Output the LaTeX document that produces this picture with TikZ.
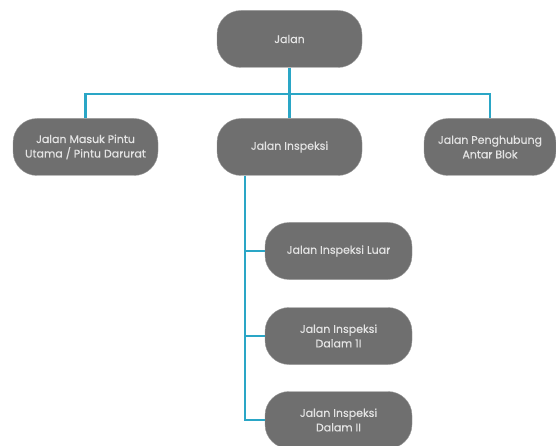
\documentclass[tikz,border=0pt]{standalone}
\usepackage{fontspec}
\setmainfont{Poppins}[UprightFeatures={FakeBold=0.35}]
\usepackage{xcolor}
\usetikzlibrary{positioning,calc}
\definecolor{JalanGray}{HTML}{6F6F6F}
\definecolor{JalanRim}{HTML}{9A9A9A}
\definecolor{JalanText}{HTML}{E4E4E4}
\definecolor{JalanTeal}{HTML}{2AA6C6}

\begin{document}
\begin{tikzpicture}[x=1pt,y=1pt,font=\fontsize{11}{14.5}\selectfont,
    road/.style={draw=JalanRim,fill=JalanGray,text=JalanText,rounded corners=24pt,
      minimum height=57pt,align=center,inner sep=2pt},
    link/.style={draw=JalanTeal,line width=2.4pt}]
  \useasboundingbox (0,0) rectangle (556,-446);
  % level 0
  \node[road,minimum width=145pt] (jalan) at (289.5,-39) {Jalan};
  % level 1
  \node[road,minimum width=145pt] (masuk) at (85.5,-147) {Jalan Masuk Pintu\\Utama / Pintu Darurat};
  \node[road,minimum width=145pt] (inspeksi) at (289.5,-147) {Jalan Inspeksi};
  \node[road,minimum width=132pt] (hubung) at (490,-147) {Jalan Penghubung\\Antar Blok};
  % level 2
  \node[road,minimum width=147pt] (luar) at (338.5,-251) {Jalan Inspeksi Luar};
  \node[road,minimum width=147pt] (dalama) at (338.5,-336) {Jalan Inspeksi\\Dalam 1I};
  \node[road,minimum width=147pt] (dalamb) at (338.5,-420) {Jalan Inspeksi\\Dalam II};
  % connectors
  \coordinate (bus) at (289.5,-94);
  \coordinate (trunk) at (245,-420);
  \draw[link] (jalan.south) -- (bus);
  \draw[link] (masuk.north) |- (bus) -| (hubung.north);
  \draw[link] (bus) -- (inspeksi.north);
  \draw[link] (trunk |- inspeksi.south) -- (trunk) -- (dalamb.west);
  \draw[link] (trunk |- luar.west) -- (luar.west);
  \draw[link] (trunk |- dalama.west) -- (dalama.west);
\end{tikzpicture}
\end{document}
